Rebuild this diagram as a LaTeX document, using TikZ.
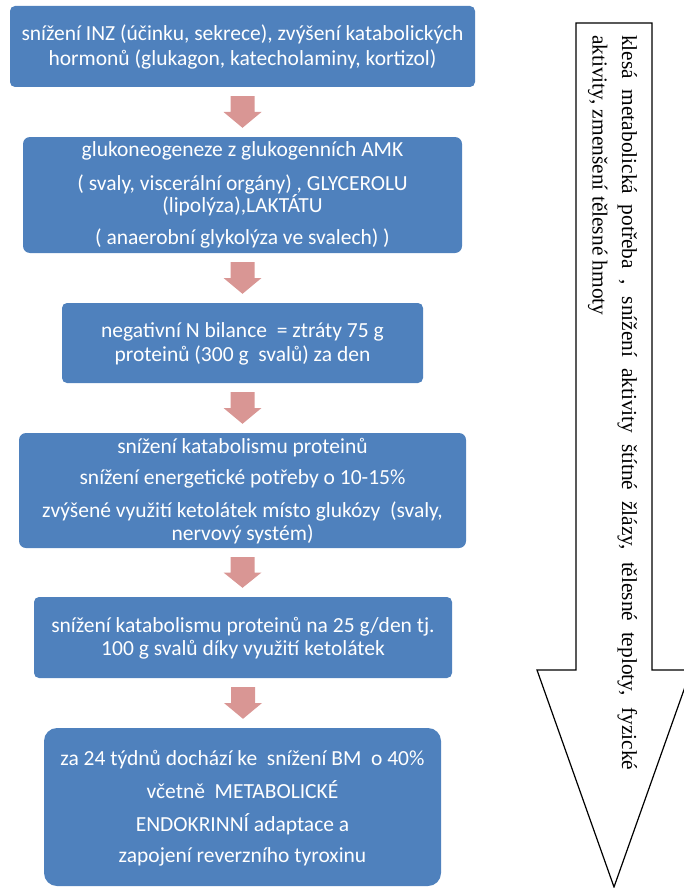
\documentclass[tikz,border=0pt]{standalone}
\usepackage{fontspec}
\setmainfont{Carlito}
\newfontfamily\sideface{Liberation Serif}
\usetikzlibrary{calc}

\definecolor{stepblue}{HTML}{4F81BD}
\definecolor{steppink}{HTML}{D99694}

\tikzset{
  stepbox/.style={fill=stepblue, draw=none, inner sep=0pt},
  steptext/.style={text=white, anchor=base, inner sep=0pt,
    font=\fontsize{21.5}{23}\selectfont},
  sidetext/.style={text=black, anchor=base west, inner sep=0pt, rotate=-90,
    font=\sideface\fontsize{21.4}{29}\selectfont},
  bigarrow/.style={draw=black, line width=1.2pt, fill=white, line join=miter}
}

% block arrow in the gap between two stacked boxes
\newcommand\flowarrow[2]{%
  \fill[steppink] let \p1=($(#1.south)+(0,9)$), \p2=($(#2.north)+(0,-9)$),
    \n1={0.5*(\y1+\y2)} in
    (\x1-12pt,\y1) -- (\x1+12pt,\y1) -- (\x1+12pt,\n1) -- (\x1+19pt,\n1)
    -- (\x1,\y2) -- (\x1-19pt,\n1) -- (\x1-12pt,\n1) -- cycle;}

\begin{document}
\begin{tikzpicture}[x=1pt,y=-1pt]
\useasboundingbox (0,0) rectangle (684,888);

% boxes of the flow
\node[stepbox, rounded corners=5pt, minimum width=465pt, minimum height=81pt]  (b1) at (242.5,46.5) {};
\node[stepbox, rounded corners=7pt, minimum width=439pt, minimum height=116pt] (b2) at (242.5,195) {};
\node[stepbox, rounded corners=5pt, minimum width=361pt, minimum height=80pt]  (b3) at (242.5,343) {};
\node[stepbox, rounded corners=7pt, minimum width=447pt, minimum height=115pt] (b4) at (242.5,490.5) {};
\node[stepbox, rounded corners=5pt, minimum width=418pt, minimum height=81pt]  (b5) at (243,637.5) {};
\node[stepbox, rounded corners=13pt, minimum width=397pt, minimum height=158pt] (b6) at (242.5,807) {};

% texts of the boxes
\node[steptext] (t11) at (242.5,40.7) {snížení INZ (účinku, sekrece), zvýšení katabolických};
\node[steptext] (t12) at (242.5,65.3) {hormonů (glukagon, katecholaminy, kortizol)};

\node[steptext] (t21) at (242.5,156) {glukoneogeneze z glukogenních AMK};
\node[steptext] (t22) at (242.5,190) {( svaly, viscerální orgány) , GLYCEROLU};
\node[steptext] (t23) at (242.5,212.7) {(lipolýza),LAKTÁTU};
\node[steptext] (t24) at (242.5,244) {( anaerobní glykolýza ve svalech) )};

\node[steptext] (t31) at (242.5,337.3) {negativní N bilance~ = ztráty 75 g};
\node[steptext] (t32) at (242.5,361) {proteinů (300 g~ svalů) za den};

\node[steptext] (t41) at (242.5,453.3) {snížení katabolismu proteinů};
\node[steptext] (t42) at (242.5,484.3) {snížení energetické potřeby o 10-15\%};
\node[steptext] (t43) at (242.5,517.3) {zvýšené využití ketolátek místo glukózy~ (svaly,};
\node[steptext] (t44) at (242.5,540) {nervový systém)};

\node[steptext] (t51) at (243,632.7) {snížení katabolismu proteinů na 25 g/den tj.};
\node[steptext] (t52) at (243,655.7) {100 g svalů díky využití ketolátek};

\node[steptext] (t61) at (242.5,765) {za 24 týdnů dochází ke~ snížení BM~ o 40\%};
\node[steptext] (t62) at (242.5,798.3) {včetně~ METABOLICKÉ};
\node[steptext] (t63) at (242.5,831) {ENDOKRINNÍ adaptace a};
\node[steptext] (t64) at (242.5,862.7) {zapojení reverzního tyroxinu};

% arrows between the boxes
\flowarrow{b1}{b2}
\flowarrow{b2}{b3}
\flowarrow{b3}{b4}
\flowarrow{b4}{b5}
\flowarrow{b5}{b6}

% large outlined arrow on the right
\draw[bigarrow] (576,23) -- (652,23) -- (652,670) -- (691,670) -- (614,887)
  -- (537,670) -- (576,670) -- cycle;
\node[sidetext] (s1) at (622,35) {\makebox[735pt][s]{klesá metabolická potřeba , snížení aktivity štítné žlázy, tělesné teploty, fyzické}};
\node[sidetext] (s2) at (592.5,35) {aktivity, zmenšení tělesné hmoty};
\end{tikzpicture}
\end{document}
